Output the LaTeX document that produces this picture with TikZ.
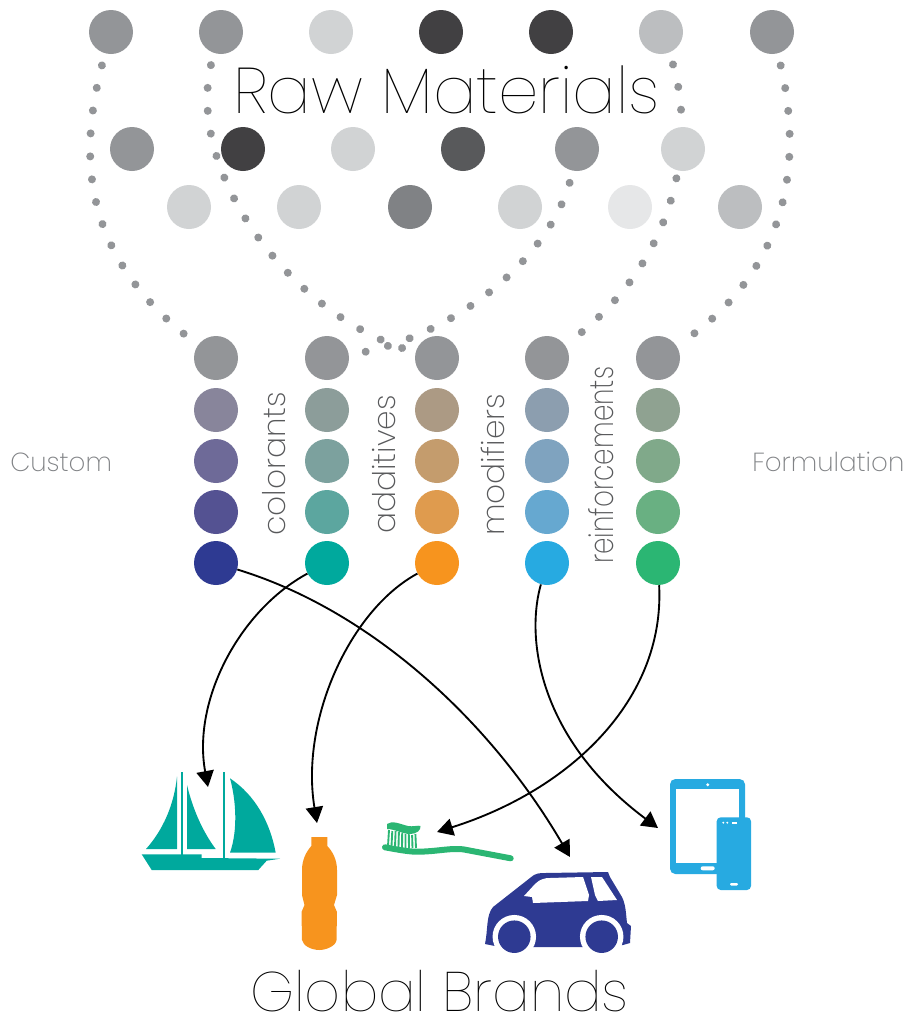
\documentclass[tikz,border=0pt]{standalone}
\usepackage{fontspec}
\usetikzlibrary{arrows.meta,backgrounds}
\newfontfamily\thinfont{Poppins ExtraLight}
\newfontfamily\hairfont{Poppins Thin}
\newfontfamily\narrowfont[FakeStretch=0.79]{Poppins ExtraLight}
\definecolor{gA}{HTML}{939598}
\definecolor{gB}{HTML}{D1D3D4}
\definecolor{gC}{HTML}{414042}
\definecolor{gD}{HTML}{BCBEC0}
\definecolor{gE}{HTML}{58595B}
\definecolor{gF}{HTML}{808285}
\definecolor{gG}{HTML}{E6E7E8}
\definecolor{navy}{HTML}{2E3A92}
\definecolor{teal}{HTML}{00A99D}
\definecolor{amber}{HTML}{F7941E}
\definecolor{sky}{HTML}{27AAE1}
\definecolor{leaf}{HTML}{2BB673}
\tikzset{
  ball/.style={circle,inner sep=0pt,minimum size=33pt},
  dots/.style={gA,line width=6pt,line cap=round,dash pattern=on 0.01pt off 17.25pt,dash phase=8pt},
  flow/.style={draw=black,line width=1.4pt,-{Triangle[length=12pt,width=13pt]}},
  vlabel/.style={rotate=90,anchor=base west,inner sep=0pt,text=gE,font=\thinfont\fontsize{23.4}{25}\selectfont},
  hlabel/.style={anchor=base west,inner sep=0pt,text=gF,font=\thinfont\fontsize{19.6}{20}\selectfont},
  title/.style={anchor=base west,inner sep=0pt,font=\hairfont\fontsize{48.4}{49}\selectfont}
}
\begin{document}
\begin{tikzpicture}[x=0.75pt,y=-0.75pt]
	\useasboundingbox (0,0) rectangle (909,1015);

	\node[ball,fill=gA] (r1) at (111,32) {};
	\node[ball,fill=gA] (r2) at (221,32) {};
	\node[ball,fill=gB] (r3) at (331,32) {};
	\node[ball,fill=gC] (r4) at (441,32) {};
	\node[ball,fill=gC] (r5) at (551,32) {};
	\node[ball,fill=gD] (r6) at (661,32) {};
	\node[ball,fill=gA] (r7) at (772,32) {};

	\node[ball,fill=gA] (m1) at (132,149) {};
	\node[ball,fill=gC] (m2) at (243,149) {};
	\node[ball,fill=gB] (m3) at (353,149) {};
	\node[ball,fill=gE] (m4) at (463,149) {};
	\node[ball,fill=gA] (m5) at (577,149) {};
	\node[ball,fill=gB] (m6) at (683,149) {};

	\node[ball,fill=gB] (s1) at (189,207) {};
	\node[ball,fill=gB] (s2) at (299,207) {};
	\node[ball,fill=gF] (s3) at (410,207) {};
	\node[ball,fill=gB] (s4) at (520,207) {};
	\node[ball,fill=gG] (s5) at (630,207) {};
	\node[ball,fill=gD] (s6) at (740,207) {};

	\node[ball,fill=gA] (a1) at (216,358) {};
	\node[ball,fill={rgb,255:red,136;green,133;blue,155}] (a2) at (216,410) {};
	\node[ball,fill={rgb,255:red,110;green,106;blue,152}] (a3) at (216,461) {};
	\node[ball,fill={rgb,255:red,84;green,82;blue,146}] (a4) at (216,512) {};
	\node[ball,fill=navy] (a5) at (216,563) {};

	\node[ball,fill=gA] (b1) at (327,358) {};
	\node[ball,fill={rgb,255:red,140;green,157;blue,154}] (b2) at (327,410) {};
	\node[ball,fill={rgb,255:red,124;green,161;blue,158}] (b3) at (327,461) {};
	\node[ball,fill={rgb,255:red,92;green,166;blue,159}] (b4) at (327,512) {};
	\node[ball,fill=teal] (b5) at (327,563) {};

	\node[ball,fill=gA] (c1) at (437,358) {};
	\node[ball,fill={rgb,255:red,172;green,154;blue,132}] (c2) at (437,410) {};
	\node[ball,fill={rgb,255:red,196;green,156;blue,109}] (c3) at (437,461) {};
	\node[ball,fill={rgb,255:red,223;green,155;blue,78}] (c4) at (437,512) {};
	\node[ball,fill=amber] (c5) at (437,563) {};

	\node[ball,fill=gA] (d1) at (547,358) {};
	\node[ball,fill={rgb,255:red,140;green,158;blue,175}] (d2) at (547,410) {};
	\node[ball,fill={rgb,255:red,127;green,163;blue,191}] (d3) at (547,461) {};
	\node[ball,fill={rgb,255:red,102;green,168;blue,208}] (d4) at (547,512) {};
	\node[ball,fill=sky] (d5) at (547,563) {};

	\node[ball,fill=gA] (e1) at (658,358) {};
	\node[ball,fill={rgb,255:red,143;green,162;blue,145}] (e2) at (658,410) {};
	\node[ball,fill={rgb,255:red,128;green,169;blue,138}] (e3) at (658,461) {};
	\node[ball,fill={rgb,255:red,105;green,176;blue,130}] (e4) at (658,512) {};
	\node[ball,fill=leaf] (e5) at (658,563) {};

	\node[title] (raw) at (233,113) {Raw Materials};
	\node[title,font=\hairfont\fontsize{41.8}{42}\selectfont] (brands) at (250,1011) {Global Brands};
	\node[hlabel] (custom) at (10,471) {Custom};
	\node[hlabel] (formulation) at (752,471) {Formulation};
	\node[vlabel] (colorants) at (285,536) {colorants};
	\node[vlabel] (additives) at (395,534) {additives};
	\node[vlabel] (modifiers) at (504,536) {modifiers};
	\node[vlabel,font=\narrowfont\fontsize{25}{25}\selectfont] (reinforcements) at (613,564) {reinforcements};

	\begin{scope}[on background layer]
		\draw[dots] (r1) .. controls (84,130) and (65,247) .. (a1);
		\draw[dots] (r2) .. controls (178,165) and (290,318) .. (c1);
		\draw[dots] (m5) .. controls (555,258) and (450,340) .. (b1);
		\draw[dots] (r6) .. controls (695,120) and (690,255) .. (d1);
		\draw[dots] (r7) .. controls (798,130) and (808,260) .. (e1);
	\end{scope}

	% boat
	\fill[teal] (141.7,854.3) -- (201.7,854.3) -- (201.7,858) -- (280,858.7) -- (266.7,860.7) -- (258.3,870) -- (151.7,870) -- cycle;
	\fill[teal] (181,771.7) rectangle (183,855);
	\fill[teal] (223,771.7) rectangle (225,858);
	\fill[teal] (177,776.7) -- (177,849) -- (146,849) .. controls (163,830) and (174,805) .. (177,776.7);
	\fill[teal] (187,785) -- (187,849) -- (215.7,849) .. controls (203,832) and (193,810) .. (187,785);
	\fill[teal] (230,778.3) .. controls (255,795) and (270,822) .. (275.7,852.7) -- (230,852.7) .. controls (238,830) and (236,800) .. (230,778.3);

	% bottle
	\fill[amber] (311.3,837) -- (327.3,837) -- (327.3,846) .. controls (333,852) and (337,860) .. (337,870) -- (337,895) -- (334,905) -- (337,912) -- (336.5,940) .. controls (336,946) and (326,950) .. (319.3,950) .. controls (312,950) and (303,946) .. (302,940) -- (301.5,912) -- (304.5,905) -- (302,895) -- (302,870) .. controls (302,860) and (306,852) .. (311.3,846) -- cycle;

	% toothbrush
	\draw[leaf,line width=4.5pt,line cap=round] (385,847.3) .. controls (400,850) and (410,852) .. (420,851.7) .. controls (440,851) and (450,848) .. (463,849.3) -- (510.7,858.3);
	\fill[leaf] (387,824) .. controls (392,820) and (400,824) .. (408,826) .. controls (413,827) and (418,825) .. (420.5,826) .. controls (421,830) and (417,834) .. (410,834) .. controls (402,834) and (395,829) .. (387,829) -- cycle;
	\draw[leaf,line width=1.4pt] (389,830) -- (388,846) (392.3,831) -- (391.5,846) (395.6,831) -- (395,847) (398.9,832) -- (398.5,847) (402.2,833) -- (402,848) (405.5,834) -- (405.5,848) (408.8,834) -- (409,848) (412.1,835) -- (412.5,848) (415.4,834) -- (416,848);

	% car
	\fill[navy] (485,944) .. controls (488,930) and (486,915) .. (493,907) -- (530,878) .. controls (535,873) and (540,873) .. (545,873) -- (608,872) -- (610,877) -- (622,897) .. controls (626,905) and (626,915) .. (627,923) -- (631,926) -- (630,943) -- (623,945) -- (600,947) -- (500,947) -- cycle;
	\fill[white] (514.3,936.7) circle[radius=16.3pt];
	\fill[white] (601.7,936.7) circle[radius=16.3pt];
	\fill[navy] (514.3,936.7) circle[radius=12.2pt];
	\fill[navy] (601.7,936.7) circle[radius=12.2pt];
	\fill[white] (524,896) -- (535,884) .. controls (540,879) and (545,878) .. (550,878) -- (583,877) -- (589,895) -- (588,901) -- (533,903) -- (532,897) -- cycle;
	\fill[white] (591,877) -- (602,877) -- (617,900) -- (598,901) -- (595,895) -- cycle;

	% tablet and phone
	\fill[sky,rounded corners=4pt] (670,779) rectangle (745,874);
	\fill[white] (676,789.3) rectangle (738.7,863.3);
	\fill[white] (707.7,784.7) circle[radius=1.2pt];
	\fill[white,rounded corners=1.5pt] (700.7,866.3) rectangle (714.7,870.3);
	\fill[sky,rounded corners=3pt] (716.7,817.3) rectangle (751,890);
	\fill[white] (723.3,822.7) circle[radius=0.8pt];
	\fill[white] (727.3,822.7) circle[radius=0.8pt];
	\fill[white] (731.7,822) rectangle (736.7,823.5);
	\fill[white,rounded corners=0.8pt] (730,883) rectangle (738,885.5);

	\coordinate (boat) at (208,787);
	\coordinate (bottle) at (317,823);
	\coordinate (brush) at (437,832);
	\coordinate (carroof) at (570,857);
	\coordinate (tablet) at (658,828);

	\draw[flow] (a5) .. controls (370,610) and (490,720) .. (carroof);
	\draw[flow] (b5) .. controls (240,610) and (192,700) .. (boat);
	\draw[flow] (c5) .. controls (350,610) and (300,720) .. (bottle);
	\draw[flow] (d5) .. controls (525,640) and (540,740) .. (tablet);
	\draw[flow] (e5) .. controls (665,700) and (570,790) .. (brush);
\end{tikzpicture}
\end{document}
